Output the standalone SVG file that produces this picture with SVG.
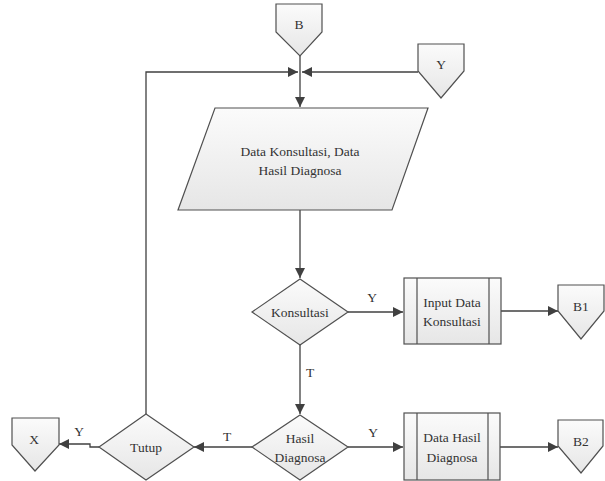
<svg xmlns="http://www.w3.org/2000/svg" width="605" height="481" viewBox="0 0 605 481">
  <defs>
    <linearGradient id="shade" x1="0" y1="0" x2="0" y2="1">
      <stop offset="0" stop-color="#fbfbfb"/>
      <stop offset="1" stop-color="#e6e6e6"/>
    </linearGradient>
    <marker id="arrow" viewBox="0 0 10 10" refX="10" refY="5" markerWidth="10" markerHeight="10" markerUnits="userSpaceOnUse" orient="auto">
      <path d="M0,0 L10,5 L0,10 Z" fill="#404040"/>
    </marker>
  </defs>
  <style>
    .shape { fill: url(#shade); stroke: #505050; stroke-width: 1.2; }
    .inner { stroke: #505050; stroke-width: 1.2; fill: none; }
    .edge { fill: none; stroke: #404040; stroke-width: 1.3; }
    .lbl { font-family: "Liberation Serif", "Times New Roman", serif; font-size: 13.5px; fill: #333; text-anchor: middle; }
  </style>
  <rect width="605" height="481" fill="#ffffff"/>

  <g id="connectors">
    <path class="edge" d="M300,56 V107" marker-end="url(#arrow)"/>
    <path class="edge" d="M146,414 V72 H298" marker-end="url(#arrow)"/>
    <path class="edge" d="M418,72 H302" marker-end="url(#arrow)"/>
    <path class="edge" d="M300,210 V278" marker-end="url(#arrow)"/>
    <path class="edge" d="M348,312 H403" marker-end="url(#arrow)"/>
    <path class="edge" d="M501,311 H558" marker-end="url(#arrow)"/>
    <path class="edge" d="M300,345 V414" marker-end="url(#arrow)"/>
    <path class="edge" d="M348,447 H403" marker-end="url(#arrow)"/>
    <path class="edge" d="M500,447 H558" marker-end="url(#arrow)"/>
    <path class="edge" d="M252,447 H194" marker-end="url(#arrow)"/>
    <path class="edge" d="M99,447 H90 V444 H59" marker-end="url(#arrow)"/>
    <text class="lbl" x="372" y="302">Y</text>
    <text class="lbl" x="310" y="377">T</text>
    <text class="lbl" x="373" y="437">Y</text>
    <text class="lbl" x="227" y="441">T</text>
    <text class="lbl" x="79" y="436">Y</text>
  </g>

  <g id="B">
    <path class="shape" d="M276,4 H322 V32 L300,56 L276,32 Z"/>
    <text class="lbl" x="299" y="29">B</text>
  </g>

  <g id="Y">
    <path class="shape" d="M418,44 H464 V71 L441,98 L418,71 Z"/>
    <text class="lbl" x="441" y="69">Y</text>
  </g>

  <g id="data">
    <path class="shape" d="M215,108 H428 L392,210 H178 Z"/>
    <text class="lbl" x="300" y="156">Data Konsultasi, Data</text>
    <text class="lbl" x="300" y="175">Hasil Diagnosa</text>
  </g>

  <g id="konsultasi">
    <path class="shape" d="M300,279 L348,312 L300,345 L252,312 Z"/>
    <text class="lbl" x="300" y="317">Konsultasi</text>
  </g>

  <g id="input-konsultasi">
    <rect class="shape" x="404" y="278" width="97" height="66"/>
    <path class="inner" d="M417,278 V344 M489,278 V344"/>
    <text class="lbl" x="452" y="307">Input Data</text>
    <text class="lbl" x="452" y="326">Konsultasi</text>
  </g>

  <g id="B1">
    <path class="shape" d="M558,285 H604 V311 L581,339 L558,311 Z"/>
    <text class="lbl" x="581" y="311">B1</text>
  </g>

  <g id="hasil-diagnosa">
    <path class="shape" d="M300,415 L348,447 L300,480 L252,447 Z"/>
    <text class="lbl" x="300" y="443">Hasil</text>
    <text class="lbl" x="300" y="462">Diagnosa</text>
  </g>

  <g id="data-hasil">
    <rect class="shape" x="404" y="413" width="96" height="67"/>
    <path class="inner" d="M417,413 V480 M488,413 V480"/>
    <text class="lbl" x="452" y="442">Data Hasil</text>
    <text class="lbl" x="452" y="462">Diagnosa</text>
  </g>

  <g id="B2">
    <path class="shape" d="M558,420 H603 V446 L581,473 L558,446 Z"/>
    <text class="lbl" x="581" y="446">B2</text>
  </g>

  <g id="tutup">
    <path class="shape" d="M146,414 L194,447 L146,480 L99,447 Z"/>
    <text class="lbl" x="146" y="452">Tutup</text>
  </g>

  <g id="X">
    <path class="shape" d="M12,418 H59 V445 L35,471 L12,445 Z"/>
    <text class="lbl" x="34" y="444">X</text>
  </g>
</svg>
